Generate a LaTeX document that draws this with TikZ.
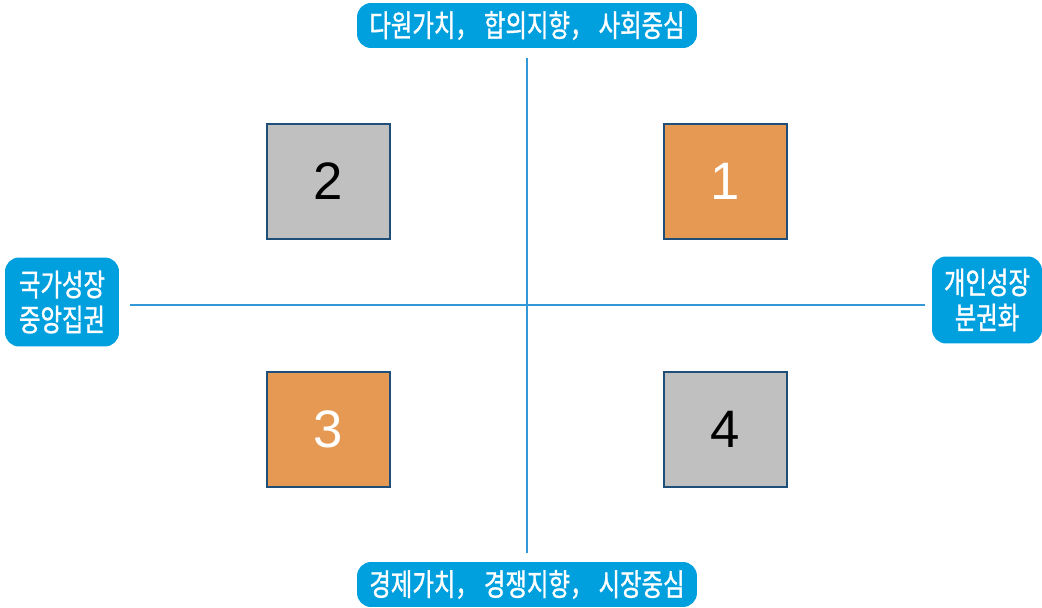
\documentclass[tikz,border=0pt]{standalone}
\usepackage{fontspec}
\setmainfont{Noto Sans CJK KR}
\newfontfamily\digitfont{Liberation Sans}
\definecolor{labelblue}{RGB}{0,160,223}
\definecolor{axisblue}{RGB}{52,152,214}
\definecolor{cellorange}{RGB}{230,153,82}
\definecolor{cellgray}{RGB}{192,192,192}
\definecolor{cellborder}{RGB}{31,78,121}
\newcommand{\sep}{，\hspace{3pt}}
\tikzset{
  label box/.style={fill=labelblue, rounded corners=8pt, text=white, inner sep=0pt,
    font=\fontsize{17.5}{20}\selectfont\addfontfeature{FakeStretch=0.76,FakeBold=1}, align=center},
  cell/.style={draw=cellborder, line width=0.9pt, minimum width=2.46cm, minimum height=2.3cm,
    inner sep=0pt, font=\digitfont\fontsize{30}{36}\selectfont},
  axis/.style={draw=axisblue, line width=0.8pt}
}
\begin{document}
\begin{tikzpicture}[x=0.02cm,y=-0.02cm]
  \useasboundingbox (0,0) rectangle (1042,608);
  % axis labels
  \node[label box, minimum width=6.8cm, minimum height=0.9cm] at(527,25.5)(top){다원가치\sep 합의지향\sep 사회중심};
  \node[label box, minimum width=6.8cm, minimum height=0.9cm] at(527,584.5)(bottom){경제가치\sep 경쟁지향\sep 시장중심};
  \node[label box, minimum width=2.28cm, minimum height=1.78cm] at(62,302)(left){국가성장\\중앙집권};
  \node[label box, minimum width=2.2cm, minimum height=1.74cm] at(987,300)(right){개인성장\\분권화};
  % axes
  \coordinate (vt) at (527,58);
  \coordinate (vb) at (527,553);
  \coordinate (hl) at (130,305);
  \coordinate (hr) at (925,305);
  \draw[axis] (vt) -- (vb);
  \draw[axis] (hl) -- (hr);
  % quadrants
  \node[cell, fill=cellorange, text=white] at(725.5,181.5)(q1){1};
  \node[cell, fill=cellgray] at(328.5,181.5)(q2){2};
  \node[cell, fill=cellorange, text=white] at(328.5,429.5)(q3){3};
  \node[cell, fill=cellgray] at(725.5,429.5)(q4){4};
\end{tikzpicture}
\end{document}
